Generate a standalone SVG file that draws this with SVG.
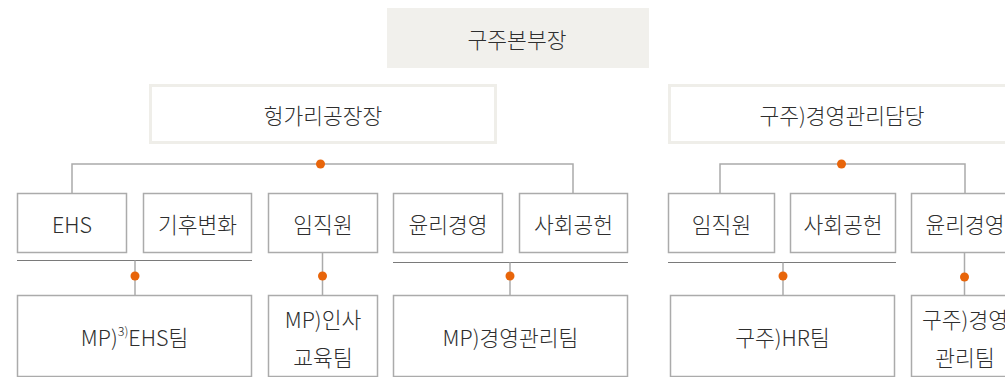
<svg xmlns="http://www.w3.org/2000/svg" width="1005" height="377" viewBox="0 0 1005 377">
<style>
text{font-family:"Noto Sans CJK KR","Noto Sans",sans-serif;font-size:21.5px;fill:#2e2e2e;text-anchor:middle;dominant-baseline:central;font-weight:300}
.head{fill:#f1f0ec;stroke:none}
.sub{fill:#fff;stroke:#efeee9;stroke-width:3}
.box{fill:#fff;stroke:#ababab;stroke-width:1.5}
.ln{stroke:#ababab;stroke-width:1.5;fill:none}
.sep{stroke:#7a7a7a;stroke-width:1.2;fill:none}
.dot{fill:#e8650a}
.sup{font-size:12.5px}
</style>
<g id="connectors">
<path class="ln" d="M72 193V164H573V193"/>
<path class="ln" d="M720 193V164H965V193"/>
<path class="sep" d="M17 260.5H252"/>
<path class="sep" d="M393 262.5H628"/>
<path class="sep" d="M668 262.5H896"/>
<path class="ln" d="M135 260.5V295"/>
<path class="ln" d="M322.5 253V295"/>
<path class="ln" d="M510 262.5V295"/>
<path class="ln" d="M783 262.5V295"/>
<path class="ln" d="M964.5 253V295"/>
<circle class="dot" cx="320.5" cy="164" r="4.5"/>
<circle class="dot" cx="841.5" cy="164" r="4.5"/>
<circle class="dot" cx="135" cy="276" r="4.5"/>
<circle class="dot" cx="322.5" cy="276" r="4.5"/>
<circle class="dot" cx="510" cy="276" r="4.5"/>
<circle class="dot" cx="783" cy="276" r="4.5"/>
<circle class="dot" cx="964.5" cy="277" r="4.5"/>
</g>
<g id="n-hq"><rect class="head" x="387" y="8" width="262" height="60"/><text x="517" y="38">구주본부장</text></g>
<g id="n-hungary"><rect class="sub" x="150.5" y="85.5" width="345" height="57"/><text x="323" y="114">헝가리공장장</text></g>
<g id="n-eumgmt"><rect class="sub" x="669.5" y="85.5" width="345" height="57"/><text x="842" y="114">구주)경영관리담당</text></g>
<g id="n-ehs"><rect class="box" x="17.5" y="193.5" width="109" height="59"/><text x="72" y="223">EHS</text></g>
<g id="n-climate"><rect class="box" x="143.5" y="193.5" width="108" height="59"/><text x="197.5" y="223">기후변화</text></g>
<g id="n-emp1"><rect class="box" x="268.5" y="193.5" width="109" height="59"/><text x="323" y="223">임직원</text></g>
<g id="n-ethics1"><rect class="box" x="393.5" y="193.5" width="109" height="59"/><text x="448" y="223">윤리경영</text></g>
<g id="n-social1"><rect class="box" x="519.5" y="193.5" width="108" height="59"/><text x="573.5" y="223">사회공헌</text></g>
<g id="n-emp2"><rect class="box" x="668.5" y="193.5" width="106" height="59"/><text x="721.5" y="223">임직원</text></g>
<g id="n-social2"><rect class="box" x="790.5" y="193.5" width="105" height="59"/><text x="843" y="223">사회공헌</text></g>
<g id="n-ethics2"><rect class="box" x="911.5" y="193.5" width="107" height="59"/><text x="965" y="223">윤리경영</text></g>
<g id="n-mp-ehs"><rect class="box" x="17.5" y="295.5" width="234" height="81"/><text x="134.5" y="336">MP)<tspan class="sup" dy="-6">3)</tspan><tspan dy="6">EHS팀</tspan></text></g>
<g id="n-mp-hr"><rect class="box" x="268.5" y="295.5" width="109" height="81"/><text x="323" y="318">MP)인사</text><text x="323" y="356">교육팀</text></g>
<g id="n-mp-mgmt"><rect class="box" x="393.5" y="295.5" width="234" height="81"/><text x="510.5" y="336">MP)경영관리팀</text></g>
<g id="n-eu-hr"><rect class="box" x="670.5" y="295.5" width="224" height="81"/><text x="782.5" y="336">구주)HR팀</text></g>
<g id="n-eu-mgmt"><rect class="box" x="911.5" y="295.5" width="107" height="81"/><text x="965" y="318">구주)경영</text><text x="965" y="356">관리팀</text></g>
</svg>
